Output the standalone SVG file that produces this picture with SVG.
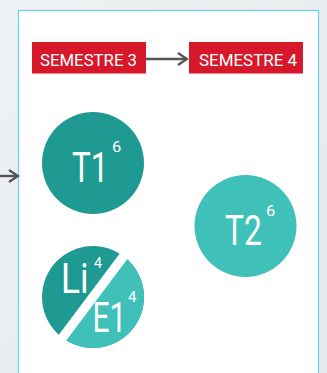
<svg xmlns="http://www.w3.org/2000/svg" width="327" height="373" viewBox="0 0 327 373">
<defs>
<linearGradient id="bg" x1="0" y1="0" x2="1" y2="1">
<stop offset="0" stop-color="#eef2f5"/>
<stop offset="1" stop-color="#e2e8eb"/>
</linearGradient>
<clipPath id="cc"><circle cx="93" cy="297" r="51"/></clipPath>
<marker id="ah" viewBox="0 0 12 14" refX="10" refY="7" markerWidth="12" markerHeight="14" markerUnits="userSpaceOnUse" orient="auto">
<path d="M1,1 L10,7 L1,13" fill="none" stroke="#555" stroke-width="2.4" stroke-linejoin="miter"/>
</marker>
<style>
.sem{fill:#d7182a}
.st{font-family:Roboto,"Liberation Sans",sans-serif;font-size:17px;fill:#fff}
.big{font-family:Roboto,"Liberation Sans",sans-serif;font-size:43px;fill:#fff}
.sup{font-family:Roboto,"Liberation Sans",sans-serif;font-size:15px;fill:#fff}
.con{stroke:#555;stroke-width:2.4;fill:none}
</style>
</defs>
<rect width="327" height="373" fill="url(#bg)"/>
<rect x="18.5" y="10.5" width="300" height="380" fill="#fff" stroke="#6dd3e0" stroke-width="1.2"/>
<g id="connectors">
<line class="con" x1="146" y1="59" x2="187" y2="59" marker-end="url(#ah)"/>
<line class="con" x1="0" y1="176" x2="18" y2="176" marker-end="url(#ah)"/>
</g>
<g id="semestre3">
<rect class="sem" x="32" y="42" width="114" height="31.5"/>
<text class="st" x="40" y="66" textLength="97" lengthAdjust="spacingAndGlyphs">SEMESTRE 3</text>
</g>
<g id="semestre4">
<rect class="sem" x="189" y="42" width="114" height="31.5"/>
<text class="st" x="199" y="66" textLength="98" lengthAdjust="spacingAndGlyphs">SEMESTRE 4</text>
</g>
<g id="T1">
<circle cx="93" cy="163" r="51" fill="#1e9a92"/>
<text class="big" transform="translate(72,182) scale(0.73,1)">T1</text>
<text class="sup" transform="translate(112,152) scale(1.1,1)">6</text>
</g>
<g id="T2">
<circle cx="245.5" cy="226" r="51" fill="#3fc1b9"/>
<text class="big" transform="translate(225,245) scale(0.74,1)">T2</text>
<text class="sup" transform="translate(266,215.5) scale(1.1,1)">6</text>
</g>
<g id="LiE1">
<circle cx="93" cy="297" r="51" fill="#1e9a92"/>
<polygon points="44.8,360.8 141.2,233.2 205,281.4 108.6,409" fill="#3fc1b9" clip-path="url(#cc)"/>
<line x1="54" y1="349" x2="132" y2="245" stroke="#fff" stroke-width="9.5"/>
<text class="big" transform="translate(61,292.5) scale(0.82,1)">Li</text>
<text class="sup" transform="translate(94,267.5) scale(0.95,1)">4</text>
<text class="big" transform="translate(92.5,331.5) scale(0.7,1)">E1</text>
<text class="sup" transform="translate(128,301.5) scale(1,1)">4</text>
</g>
</svg>
